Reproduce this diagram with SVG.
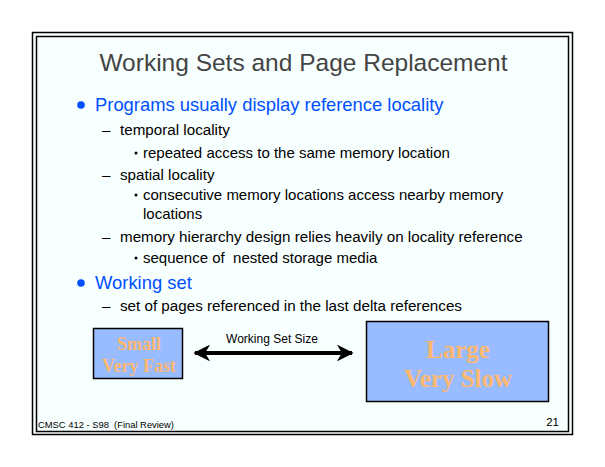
<svg xmlns="http://www.w3.org/2000/svg" width="605" height="467" viewBox="0 0 605 467">
<style>
.t{font-family:"Liberation Sans",Arial,sans-serif;white-space:pre}
.title{font-size:24.5px;fill:#444444}
.l1{font-size:18.4px;fill:#0050FF}
.l2{font-size:15.2px;fill:#000}
.l3{font-size:15px;fill:#000}
.box{fill:#99BBFF;stroke:#000;stroke-width:1.5}
.bt{font-family:"Liberation Serif","Times New Roman",serif;font-weight:bold;fill:#FFB870;text-anchor:middle}
</style>
<defs>
<marker id="ah" viewBox="0 0 10 10" refX="9" refY="5" markerWidth="7" markerHeight="4.2" markerUnits="strokeWidth" orient="auto-start-reverse">
<path d="M0,0 L10,5 L0,10 L3,5 z" fill="#000"/>
</marker>
</defs>
<rect width="605" height="467" fill="#fff"/>
<rect x="32.5" y="32.5" width="540" height="402" fill="#F8FFFF" stroke="#000" stroke-width="1.5"/>
<rect x="36.5" y="36.5" width="532" height="395" fill="none" stroke="#000" stroke-width="1.5"/>
<g id="title"><text class="t title" x="303.5" y="71" text-anchor="middle">Working Sets and Page Replacement</text></g>
<g id="bullets">
<circle cx="81" cy="105" r="3.8" fill="#0050FF"/>
<text class="t l1" x="95" y="111">Programs usually display reference locality</text>
<text class="t l2" x="102" y="135">–</text><text class="t l2" x="120" y="135">temporal locality</text>
<circle cx="136" cy="153" r="1.5" fill="#000"/>
<text class="t l3" x="143" y="158">repeated access to the same memory location</text>
<text class="t l2" x="102" y="180">–</text><text class="t l2" x="120" y="180">spatial locality</text>
<circle cx="136" cy="195" r="1.5" fill="#000"/>
<text class="t l3" x="143" y="200">consecutive memory locations access nearby memory</text>
<text class="t l3" x="143" y="219">locations</text>
<text class="t l2" x="102" y="242">–</text><text class="t l2" x="120" y="242">memory hierarchy design relies heavily on locality reference</text>
<circle cx="136" cy="258" r="1.5" fill="#000"/>
<text class="t l3" x="143" y="263">sequence of  nested storage media</text>
<circle cx="81" cy="283" r="3.8" fill="#0050FF"/>
<text class="t l1" x="95" y="289">Working set</text>
<text class="t l2" x="102" y="311">–</text><text class="t l2" x="120" y="311">set of pages referenced in the last delta references</text>
</g>
<g id="small">
<rect class="box" x="93.5" y="328.5" width="89" height="50"/>
<text class="bt" x="139" y="350" font-size="18">Small</text>
<text class="bt" x="139" y="372" font-size="18">Very Fast</text>
</g>
<g id="large">
<rect class="box" x="366.5" y="321.5" width="182" height="80"/>
<text class="bt" x="458" y="358" font-size="25">Large</text>
<text class="bt" x="458" y="387" font-size="25">Very Slow</text>
</g>
<g id="connectors">
<line x1="195" y1="353" x2="352" y2="353" stroke="#000" stroke-width="4" marker-start="url(#ah)" marker-end="url(#ah)"/>
<text class="t" x="272" y="343" font-size="12" text-anchor="middle">Working Set Size</text>
</g>
<g id="footer">
<text class="t" x="38" y="428" font-size="9.4">CMSC 412 - S98  (Final Review)</text>
<text class="t" x="559" y="426" font-size="11.5" text-anchor="end">21</text>
</g>
</svg>
